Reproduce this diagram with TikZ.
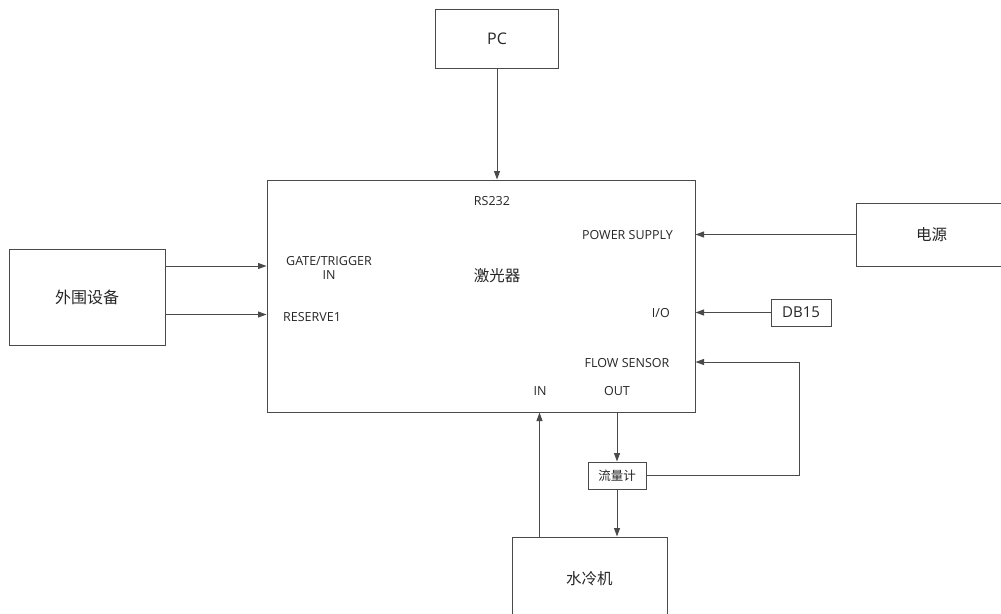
\documentclass[tikz,border=0pt]{standalone}
\usepackage{fontspec}
\setmainfont{Open Sans}
\newfontfamily\cjk{Noto Sans CJK SC}
\usetikzlibrary{arrows.meta}
\definecolor{ln}{HTML}{4A4A4A}
\definecolor{tx}{HTML}{262626}
\begin{document}
\begin{tikzpicture}[x=1pt,y=-1pt,
  box/.style={draw=ln, line width=1pt, inner sep=0pt, text=tx},
  conn/.style={draw=ln, line width=1pt, -{Triangle[length=8.5pt,width=6pt]}},
  lbl/.style={text=tx, font=\fontsize{12.5}{14}\selectfont, inner sep=0pt},
  zh/.style={text=tx, font=\cjk\fontsize{15.5}{17}\selectfont, inner sep=0pt},
  ]
\useasboundingbox (0,0) rectangle (1001,613);
\fill[white] (0,0) rectangle (1001,613);
% boxes
\node[box, minimum width=123pt, minimum height=59pt, font=\fontsize{16}{18}\selectfont] (pc) at (497,38.5) {PC};
\node[box, minimum width=428pt, minimum height=232pt] (laser) at (481,296) {};
\node[box, minimum width=156pt, minimum height=96pt, font=\cjk\fontsize{16}{18}\selectfont] (peri) at (87,297) {外围设备};
\node[box, minimum width=154pt, minimum height=63pt, font=\cjk\fontsize{15.5}{17}\selectfont, text width=154pt, align=left] (power) at (933,234.5) {\hspace*{60pt}电源};
\node[box, minimum width=60pt, minimum height=27pt, font=\fontsize{15}{17}\selectfont] (db) at (801,312.5) {DB15};
\node[box, minimum width=58pt, minimum height=27pt, font=\cjk\fontsize{12.5}{14}\selectfont] (flow) at (617,475.5) {流量计};
\node[box, minimum width=155pt, minimum height=83pt, font=\cjk\fontsize{15.5}{17}\selectfont, text width=155pt, align=left] (chiller) at (589.5,578.5) {\hspace*{54pt}水冷机};
% labels inside laser
\node[zh] (lasername) at (497,276) {激光器};
\node[lbl] (rs) at (492,201) {RS232};
\node[lbl, anchor=east] (ps) at (673,235) {POWER SUPPLY};
\node[lbl, anchor=east] (io) at (670,313) {I/O};
\node[lbl] (fsl) at (627,363) {FLOW SENSOR};
\node[lbl, anchor=west] (res) at (283,317) {RESERVE1};
\node[lbl, align=center] (gate) at (329,268) {GATE/TRIGGER\\IN};
\node[lbl] (inl) at (540,391) {IN};
\node[lbl] (outl) at (617,391) {OUT};
% coordinates
\coordinate (gy) at (0,266);
\coordinate (ry) at (0,314.5);
\coordinate (fsR) at (799,362);
\coordinate (inx) at (539.5,0);
% connectors
\draw[conn] (pc.south) -- (pc.south |- laser.north);
\draw[conn] (peri.east |- gy) -- (laser.west |- gy);
\draw[conn] (peri.east |- ry) -- (laser.west |- ry);
\draw[conn] (power.west) -- (laser.east |- power.west);
\draw[conn] (db.west) -- (laser.east |- db.west);
\draw[conn] (flow.east) -| (fsR) -- (laser.east |- fsR);
\draw[conn] (laser.south -| flow.north) -- (flow.north);
\draw[conn] (flow.south) -- (chiller.north -| flow.south);
\draw[conn] (chiller.north -| inx) -- (laser.south -| inx);
\end{tikzpicture}
\end{document}
